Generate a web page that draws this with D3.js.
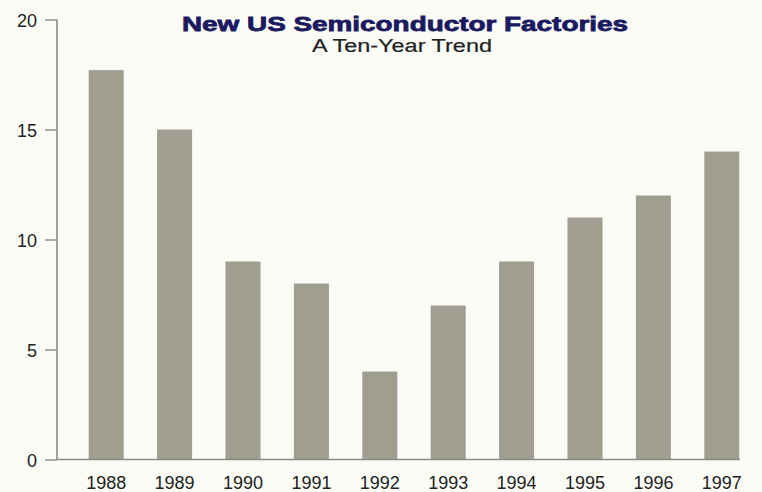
<!DOCTYPE html>
<html>
<head>
<meta charset="utf-8">
<script src="https://cdn.jsdelivr.net/npm/d3@7/dist/d3.min.js"></script>
<style>
  html, body { margin: 0; padding: 0; background: #fcfcf7; }
  svg { display: block; }
  text { font-family: "Liberation Sans", Arial, Helvetica, sans-serif; }
</style>
</head>
<body>
<svg id="chart" width="762" height="492"></svg>
<script>
// Number of new semiconductor factories in the US per year
const years = ["1988", "1989", "1990", "1991", "1992", "1993", "1994", "1995", "1996", "1997"];
const factories = [17.7, 15, 9, 8, 4, 7, 9, 11, 12, 14];
const yTicks = [0, 5, 10, 15, 20];
const titleText = "New US Semiconductor Factories";
const subtitleText = "A Ten-Year Trend";

const svg = d3.select("#chart");
const W = 762, H = 492;

svg.append("rect").attr("width", W).attr("height", H).attr("fill", "#fcfcf7");

const axisX = 57;
const x = d3.scaleBand()
  .domain(years)
  .range([72, 756])
  .paddingInner(0.488)
  .paddingOuter(0.244);

const y = d3.scaleLinear().domain([0, 20]).range([459.5, 19.5]);

// Bars
svg.append("g").selectAll("rect")
  .data(years.map((yr, i) => ({ yr, v: factories[i] })))
  .join("rect")
  .attr("x", d => x(d.yr))
  .attr("y", d => y(d.v))
  .attr("width", x.bandwidth())
  .attr("height", d => y(0) - y(d.v))
  .attr("fill", "#a09e91");

// Y axis
const yAxis = d3.axisLeft(y).tickValues(yTicks).tickSize(12).tickPadding(8);
const gy = svg.append("g").attr("transform", `translate(${axisX},0)`).call(yAxis);
gy.select(".domain").attr("stroke", "#8a8a86").attr("stroke-width", 1.6)
  .attr("d", `M0,${y(20)}V${y(0)}`);
gy.selectAll(".tick line").attr("stroke", "#8a8a86").attr("stroke-width", 1.4);
gy.selectAll(".tick text").attr("fill", "#222").attr("y", 1).style("font-size", "18px");

// Baseline
svg.append("line")
  .attr("x1", axisX).attr("x2", 740)
  .attr("y1", y(0)).attr("y2", y(0))
  .attr("stroke", "#8a8a86").attr("stroke-width", 1.6);

// X labels
const xAxis = d3.axisBottom(x).tickSize(0).tickPadding(0);
const gx = svg.append("g").attr("transform", `translate(0,${y(0)})`).call(xAxis);
gx.select(".domain").remove();
gx.selectAll(".tick text")
  .attr("dy", null).attr("y", 29)
  .attr("fill", "#222").style("font-size", "18px");

// Titles (wide, heavy face)
svg.append("text")
  .attr("x", 405).attr("y", 31)
  .attr("text-anchor", "middle")
  .attr("fill", "#1b1a60")
  .attr("stroke", "#1b1a60").attr("stroke-width", 0.8)
  .attr("textLength", 446).attr("lengthAdjust", "spacingAndGlyphs")
  .style("font-size", "21px").style("font-weight", "bold")
  .text(titleText);

svg.append("text")
  .attr("x", 402).attr("y", 52)
  .attr("text-anchor", "middle")
  .attr("fill", "#222")
  .attr("stroke", "#222").attr("stroke-width", 0.2)
  .attr("textLength", 180).attr("lengthAdjust", "spacingAndGlyphs")
  .style("font-size", "18px")
  .text(subtitleText);
</script>
</body>
</html>
